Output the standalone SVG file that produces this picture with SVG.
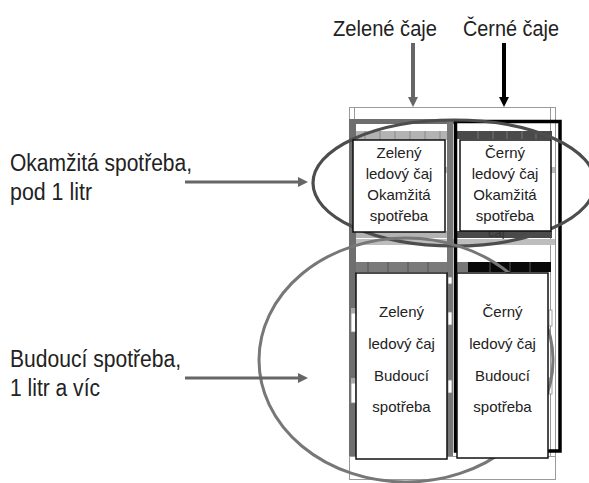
<svg xmlns="http://www.w3.org/2000/svg" width="589" height="483" viewBox="0 0 589 483">
<style>
.lbl{font-family:"Liberation Sans",Arial,sans-serif;font-size:23px;fill:#222}
.top{font-family:"Liberation Sans",Arial,sans-serif;font-size:21.5px;fill:#222}
.bx{font-family:"Liberation Sans",Arial,sans-serif;font-size:15px;fill:#222;text-anchor:middle}
.box{fill:#fff;stroke:#111;stroke-width:1.5}
.thin{fill:none;stroke:#9a9a9a;stroke-width:1}
.sep{stroke:#888;stroke-width:1}
.sepd{stroke:#777;stroke-width:1}
.tag{fill:#fff;stroke:#888;stroke-width:0.8}
</style>
<defs>
<marker id="ahG" markerWidth="11" markerHeight="11" refX="1" refY="5" orient="auto" markerUnits="userSpaceOnUse"><path d="M0,0 L10,5 L0,10 z" fill="#666"/></marker>
<marker id="ahB" markerWidth="11" markerHeight="11" refX="1" refY="5" orient="auto" markerUnits="userSpaceOnUse"><path d="M0,0 L10,5 L0,10 z" fill="#000"/></marker>
</defs>
<rect width="589" height="483" fill="#fff"/>

<g id="shelf">
  <rect class="thin" x="349.5" y="107.5" width="206" height="372"/>
  <line class="thin" x1="354.5" y1="107" x2="354.5" y2="456"/>
  <line class="thin" x1="550.5" y1="107" x2="550.5" y2="456"/>
  <line class="thin" x1="349" y1="456.5" x2="555" y2="456.5"/>
  <rect x="355" y="131" width="95" height="9" fill="#b3b3b3"/>
  <g class="sep"><line x1="365" y1="131" x2="365" y2="140"/><line x1="380" y1="131" x2="380" y2="140"/><line x1="395" y1="131" x2="395" y2="140"/><line x1="410" y1="131" x2="410" y2="140"/><line x1="425" y1="131" x2="425" y2="140"/><line x1="440" y1="131" x2="440" y2="140"/></g>
  <rect x="456" y="131" width="96" height="8" fill="#4a4a4a"/>
  <g class="sepd"><line x1="478" y1="131" x2="478" y2="139"/><line x1="493" y1="131" x2="493" y2="139"/><line x1="507" y1="131" x2="507" y2="139"/><line x1="522" y1="131" x2="522" y2="139"/><line x1="536" y1="131" x2="536" y2="139"/></g>
  <rect x="349" y="167" width="6" height="6" fill="#bbb"/>
  <rect x="444" y="167" width="8" height="6" fill="#bbb"/>
  <rect x="550" y="167" width="5" height="6" fill="#bbb"/>
  <rect x="355" y="231" width="95" height="7" fill="#b3b3b3"/>
  <rect x="456" y="231" width="96" height="7" fill="#4a4a4a"/>
  <text x="488" y="237" font-family="Liberation Sans, Arial, sans-serif" font-size="13" fill="#333">čaj</text>
  <rect x="349" y="239" width="206" height="6" fill="#bdbdbd"/>
  <rect x="355" y="262" width="97" height="10" fill="#7a7a7a"/>
  <g stroke="#555" stroke-width="1"><line x1="368" y1="262" x2="368" y2="272"/><line x1="388" y1="262" x2="388" y2="272"/><line x1="408" y1="262" x2="408" y2="272"/><line x1="428" y1="262" x2="428" y2="272"/></g>
  <rect x="456" y="262" width="12" height="10" fill="#777"/>
  <rect x="468" y="262" width="83" height="10" fill="#080808"/>
  <g stroke="#555" stroke-width="1"><line x1="490" y1="262" x2="490" y2="272"/><line x1="510" y1="262" x2="510" y2="272"/><line x1="530" y1="262" x2="530" y2="272"/></g>
  <rect x="349" y="119" width="7" height="337" fill="#6e6e6e"/>
  <rect x="349" y="119" width="106" height="5" fill="#6e6e6e"/>
  <rect x="447" y="120" width="6" height="336" fill="#777"/>
  <rect x="455.5" y="121.5" width="104.5" height="329.5" fill="none" stroke="#000" stroke-width="3.5"/>
  <rect class="tag" x="351" y="313" width="5" height="19"/><rect x="351" y="308" width="5" height="5" fill="#aaa"/>
  <rect class="tag" x="351" y="383" width="5" height="20"/><rect x="351" y="378" width="5" height="5" fill="#aaa"/>
  <rect class="tag" x="448" y="277" width="4" height="7"/>
  <rect class="tag" x="448" y="312" width="4" height="13"/>
  <rect class="tag" x="448" y="380" width="4" height="13"/>
  <rect class="tag" x="549" y="310" width="3" height="16"/>
  <rect class="tag" x="549" y="378" width="3" height="16"/>
</g>

<g id="ellipse-okamzita">
  <ellipse cx="454" cy="183" rx="141" ry="63" fill="none" stroke="#4d4d4d" stroke-width="3.2"/>
</g>
<g id="circle-budouci">
  <ellipse cx="406" cy="360" rx="147" ry="122" fill="none" stroke="#777" stroke-width="3"/>
</g>

<g id="box-zeleny-okamzita">
  <rect class="box" x="353" y="140" width="92" height="92"/>
  <text class="bx" x="399" y="158">Zelený</text>
  <text class="bx" x="399" y="179">ledový čaj</text>
  <text class="bx" x="399" y="200">Okamžitá</text>
  <text class="bx" x="399" y="221">spotřeba</text>
</g>
<g id="box-cerny-okamzita">
  <rect class="box" x="460" y="140" width="91" height="91"/>
  <text class="bx" x="505" y="158">Černý</text>
  <text class="bx" x="505" y="179">ledový čaj</text>
  <text class="bx" x="505" y="200">Okamžitá</text>
  <text class="bx" x="505" y="221">spotřeba</text>
</g>
<g id="box-zeleny-budouci">
  <rect class="box" x="356" y="273" width="91" height="186"/>
  <text class="bx" x="401.5" y="317">Zelený</text>
  <text class="bx" x="401.5" y="349">ledový čaj</text>
  <text class="bx" x="401.5" y="381">Budoucí</text>
  <text class="bx" x="401.5" y="412">spotřeba</text>
</g>
<g id="box-cerny-budouci">
  <rect class="box" x="457" y="273" width="91" height="185"/>
  <text class="bx" x="502.5" y="317">Černý</text>
  <text class="bx" x="502.5" y="349">ledový čaj</text>
  <text class="bx" x="502.5" y="381">Budoucí</text>
  <text class="bx" x="502.5" y="412">spotřeba</text>
</g>

<g id="label-zelene-caje"><text class="top" x="333" y="36" textLength="104" lengthAdjust="spacingAndGlyphs">Zelené čaje</text></g>
<g id="label-cerne-caje"><text class="top" x="463" y="36" textLength="96" lengthAdjust="spacingAndGlyphs">Černé čaje</text></g>
<g id="label-okamzita">
  <text class="lbl" x="10" y="171" textLength="182" lengthAdjust="spacingAndGlyphs">Okamžitá spotřeba,</text>
  <text class="lbl" x="10" y="200" textLength="82" lengthAdjust="spacingAndGlyphs">pod 1 litr</text>
</g>
<g id="label-budouci">
  <text class="lbl" x="10" y="367" textLength="171" lengthAdjust="spacingAndGlyphs">Budoucí spotřeba,</text>
  <text class="lbl" x="10" y="396" textLength="90" lengthAdjust="spacingAndGlyphs">1 litr a víc</text>
</g>

<g id="connectors">
  <line x1="413" y1="43" x2="413" y2="98" stroke="#666" stroke-width="4" marker-end="url(#ahG)"/>
  <line x1="504" y1="43" x2="504" y2="98" stroke="#000" stroke-width="4" marker-end="url(#ahB)"/>
  <line x1="185" y1="182" x2="299" y2="182" stroke="#666" stroke-width="3" marker-end="url(#ahG)"/>
  <line x1="185" y1="378" x2="299" y2="378" stroke="#666" stroke-width="3" marker-end="url(#ahG)"/>
</g>
</svg>
